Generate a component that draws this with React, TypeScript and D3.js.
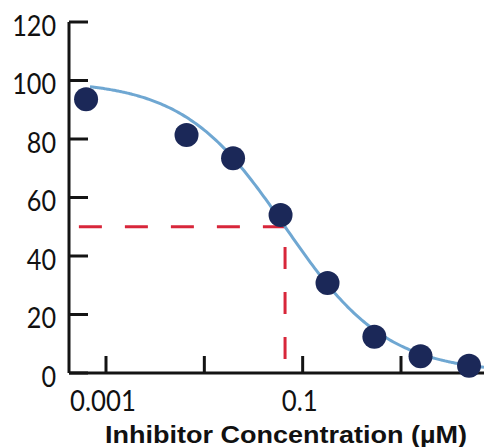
import React from "react";
import * as d3 from "d3";

// Measured responses (% activity) at each inhibitor concentration (µM)
const concentrations = [0.000627, 0.00659, 0.0196, 0.0596, 0.179, 0.536, 1.58, 4.92];
const responses = [93.6, 81.4, 73.4, 54.0, 30.8, 12.4, 5.7, 2.5];

// Four-parameter logistic fit
const fitTop = 100;
const fitBottom = 0;
const ic50 = 0.0662;
const hillSlope = 0.84;

// Guide lines marking the half-maximal response
const halfResponse = 50;
const guideStartConc = 0.00053;
const guideFloor = 4.8;

const yTicks = [0, 20, 40, 60, 80, 100, 120];
const xTicks = [0.001, 0.01, 0.1, 1];
const xTickLabels = ["0.001", "", "0.1", ""];
const xTitle = "Inhibitor Concentration (µM)";

const W = 484;
const H = 447;

export default function App() {
  const x = d3.scaleLog().domain([0.001, 1]).range([106, 401]);
  const y = d3.scaleLinear().domain([0, 120]).range([373, 22]);

  const logistic = (c: number) =>
    fitBottom + (fitTop - fitBottom) / (1 + Math.pow(c / ic50, hillSlope));

  const cStart = x.invert(90);
  const cEnd = x.invert(W);
  const curvePts = d3.range(0, 201).map((i) => {
    const c = Math.pow(10, Math.log10(cStart) + (i / 200) * (Math.log10(cEnd) - Math.log10(cStart)));
    return [x(c), y(logistic(c))] as [number, number];
  });
  const curvePath = d3.line().curve(d3.curveBasis)(curvePts) || "";

  const axisColor = "#141414";
  const labelFont = "Lato, 'Open Sans', sans-serif";

  return (
    <svg
      width={W}
      height={H}
      style={{ position: "absolute", left: 0, top: 0, display: "block", background: "#fff" }}
    >
      {/* y axis */}
      <line x1={69} x2={69} y1={y(120)} y2={y(0)} stroke={axisColor} strokeWidth={3} />
      {yTicks.map((t) => (
        <g key={"y" + t}>
          <line x1={69} x2={88} y1={y(t)} y2={y(t)} stroke={axisColor} strokeWidth={3} />
          <text
            transform={`translate(56,${y(t) + 3}) scale(0.9,1)`}
            textAnchor="end"
            dominantBaseline="central"
            fontFamily={labelFont}
            fontSize={28}
            fill="#111"
          >
            {t}
          </text>
        </g>
      ))}

      {/* x axis */}
      <line x1={69} x2={W} y1={y(0)} y2={y(0)} stroke={axisColor} strokeWidth={3} />
      {xTicks.map((t, i) => (
        <g key={"x" + t}>
          <line x1={x(t)} x2={x(t)} y1={y(0)} y2={y(0) - 17} stroke={axisColor} strokeWidth={3} />
          {xTickLabels[i] && (
            <text
              transform={`translate(${x(t) - 3},411) scale(0.92,1)`}
              textAnchor="middle"
              fontFamily={labelFont}
              fontSize={28}
              fill="#111"
            >
              {xTickLabels[i]}
            </text>
          )}
        </g>
      ))}
      <text
        x={105}
        y={443}
        fontFamily="'Liberation Sans', Arial, sans-serif"
        fontWeight="bold"
        fontSize={23}
        textLength={362}
        lengthAdjust="spacingAndGlyphs"
        fill="#111"
      >
        {xTitle}
      </text>

      {/* IC50 guides */}
      <line
        x1={x(guideStartConc)}
        x2={x(ic50)}
        y1={y(halfResponse)}
        y2={y(halfResponse)}
        stroke="#d8263a"
        strokeWidth={3}
        strokeDasharray="23 23"
      />
      <line
        x1={x(ic50)}
        x2={x(ic50)}
        y1={y(guideFloor)}
        y2={y(halfResponse)}
        stroke="#d8263a"
        strokeWidth={3}
        strokeDasharray="22 23"
      />

      {/* fitted curve */}
      <path d={curvePath} fill="none" stroke="#6fa7d2" strokeWidth={3} />

      {/* observations */}
      {concentrations.map((c, i) => (
        <circle key={"p" + i} cx={x(c)} cy={y(responses[i])} r={12} fill="#1b2858" />
      ))}
    </svg>
  );
}
